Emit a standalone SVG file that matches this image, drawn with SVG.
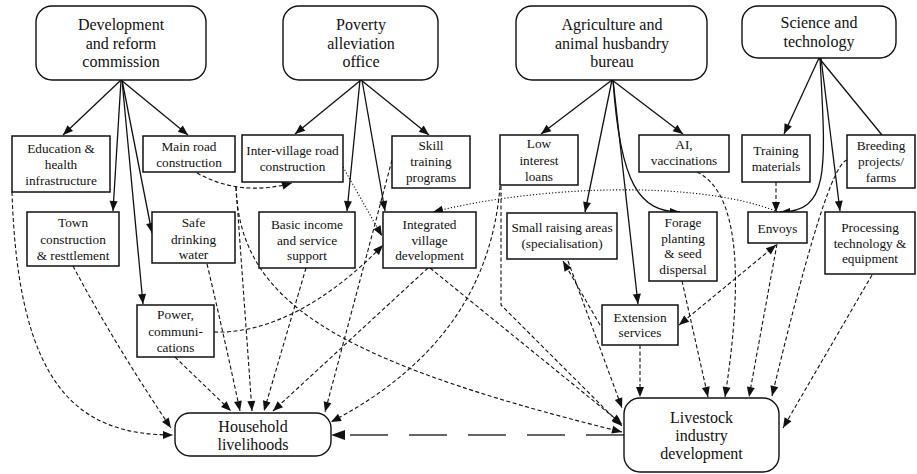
<svg xmlns="http://www.w3.org/2000/svg" width="917" height="474" viewBox="0 0 917 474">
<style>
text{font-family:"Liberation Serif",Tinos,"Times New Roman","DejaVu Serif",serif;fill:#111;text-anchor:middle}
.big{font-size:16px}
.sm{font-size:13.3px}
.top{fill:#fff;stroke:#111;stroke-width:1.4}
.box{fill:#fff;stroke:#111;stroke-width:1.5}
.s{fill:none;stroke:#111;stroke-width:1.3}
.d{fill:none;stroke:#111;stroke-width:1.1;stroke-dasharray:4 2.5}
.t{fill:none;stroke:#111;stroke-width:1.1;stroke-dasharray:1.2 2}
.l{fill:none;stroke:#333;stroke-width:1.5;stroke-dasharray:38 21}
</style>
<defs>
<marker id="a" markerUnits="userSpaceOnUse" markerWidth="11" markerHeight="9" refX="10" refY="4" orient="auto-start-reverse" overflow="visible"><path d="M0,0 L10,4 L0,8 z" fill="#111"/></marker>
<marker id="b" markerUnits="userSpaceOnUse" markerWidth="15" markerHeight="11" refX="14" refY="5" orient="auto" overflow="visible"><path d="M0,0 L14,5 L0,10 z" fill="#111"/></marker>
</defs>
<g id="connectors">
<path class="s" d="M121,80 L63,135" marker-end="url(#a)"/>
<path class="s" d="M121,80 L188,135" marker-end="url(#a)"/>
<path class="s" d="M121,80 L113,211" marker-end="url(#a)"/>
<path class="s" d="M122,80 L152,233" marker-end="url(#a)"/>
<path class="s" d="M122,80 L143,304" marker-end="url(#a)"/>
<path class="s" d="M361,80 L295,134" marker-end="url(#a)"/>
<path class="s" d="M361,80 L429,135" marker-end="url(#a)"/>
<path class="s" d="M360,80 L347,211" marker-end="url(#a)"/>
<path class="s" d="M362,80 L385,211" marker-end="url(#a)"/>
<path class="s" d="M612,80 L541,134" marker-end="url(#a)"/>
<path class="s" d="M612,80 L683,134" marker-end="url(#a)"/>
<path class="s" d="M612,80 L585,212" marker-end="url(#a)"/>
<path class="s" d="M613,80 L638,304" marker-end="url(#a)"/>
<path class="s" d="M613,80 C620,185 640,212 680,212" marker-end="url(#a)"/>
<path class="s" d="M819,58 L784,134" marker-end="url(#a)"/>
<path class="s" d="M819,58 L882,135"/>
<path class="s" d="M820,58 C826,170 830,212 780,212" marker-end="url(#a)"/>
<path class="s" d="M821,58 L840,211" marker-end="url(#a)"/>
<path class="d" d="M197,173 Q240,197 292,183" marker-end="url(#a)"/>
<path class="d" d="M236,187 L252,411" marker-end="url(#a)"/>
<path class="d" d="M236,187 C240,300 330,360 622,432" marker-end="url(#a)"/>
<path class="d" d="M207,264 Q225,340 240,411" marker-end="url(#a)"/>
<path class="d" d="M175,357 L231,411" marker-end="url(#a)"/>
<path class="d" d="M306,268 L264,411" marker-end="url(#a)"/>
<path class="d" d="M428,268 L273,411" marker-end="url(#a)"/>
<path class="d" d="M392,160 L325,412" marker-end="url(#a)"/>
<path class="d" d="M501,160 C501,290 430,370 331,422" marker-end="url(#a)"/>
<path class="d" d="M501,160 L501,305 L622,426" marker-end="url(#a)"/>
<path class="d" d="M430,268 L622,424" marker-end="url(#a)"/>
<path class="d" d="M214,332 C270,334 330,300 383,245" marker-end="url(#a)"/>
<path class="d" d="M12,192 C18,390 80,435 173,435" marker-end="url(#a)"/>
<path class="d" d="M73,266 Q115,345 171,428" marker-end="url(#a)"/>
<path class="d" d="M600,325 L563,261" marker-end="url(#a)"/>
<path class="d" d="M568,261 L622,408" marker-end="url(#a)"/>
<path class="d" d="M640,345 L640,397" marker-end="url(#a)"/>
<path class="d" d="M682,281 L708,397" marker-end="url(#a)"/>
<path class="d" d="M697,172 C745,195 740,300 725,397" marker-end="url(#a)"/>
<path class="d" d="M777,244 L749,397" marker-end="url(#a)"/>
<path class="d" d="M847,160 C830,165 800,280 772,396" marker-end="url(#a)"/>
<path class="d" d="M872,275 L783,428" marker-end="url(#a)"/>
<path class="d" d="M776,245 L679,325" marker-start="url(#a)" marker-end="url(#a)"/>
<path class="d" d="M776,182 L776,212" marker-end="url(#a)"/>
<path class="t" d="M343,167 L382,236" marker-end="url(#a)"/>
<path class="t" d="M778,212 C700,180 540,185 433,212" marker-end="url(#a)"/>
<path class="l" d="M624,435 L331,435" marker-end="url(#b)"/>
</g>
<g font-family="'Liberation Serif', Tinos, 'Times New Roman', 'DejaVu Serif', serif">
<g id="dev"><rect class="top" x="36" y="6" width="170" height="74" rx="16"/><text class="big" x="121" y="30">Development</text><text class="big" x="121" y="48.5">and reform</text><text class="big" x="121" y="67">commission</text></g>
<g id="pov"><rect class="top" x="283" y="6" width="155" height="74" rx="16"/><text class="big" x="361" y="30">Poverty</text><text class="big" x="361" y="48.5">alleviation</text><text class="big" x="361" y="67">office</text></g>
<g id="agri"><rect class="top" x="516" y="6" width="191" height="74" rx="16"/><text class="big" x="612" y="30">Agriculture and</text><text class="big" x="612" y="48.5">animal husbandry</text><text class="big" x="612" y="67">bureau</text></g>
<g id="sci"><rect class="top" x="742" y="6" width="154" height="52" rx="16"/><text class="big" x="819" y="28">Science and</text><text class="big" x="819" y="46.5">technology</text></g>
<g id="edu"><rect class="box" x="12" y="136" width="98" height="56"/><text class="sm" x="61" y="152.5">Education &amp;</text><text class="sm" x="61" y="168.5">health</text><text class="sm" x="61" y="184.5">infrastructure</text></g>
<g id="mainroad"><rect class="box" x="143" y="136" width="92" height="36"/><text class="sm" x="189" y="151">Main road</text><text class="sm" x="189" y="166.5">construction</text></g>
<g id="intervillage"><rect class="box" x="242" y="135" width="101" height="47"/><text class="sm" x="292.5" y="155">Inter-village road</text><text class="sm" x="292.5" y="171">construction</text></g>
<g id="skill"><rect class="box" x="392" y="136" width="78" height="52"/><text class="sm" x="431" y="150">Skill</text><text class="sm" x="431" y="166">training</text><text class="sm" x="431" y="182">programs</text></g>
<g id="loans"><rect class="box" x="500" y="135" width="78" height="50"/><text class="sm" x="539" y="148">Low</text><text class="sm" x="539" y="165">interest</text><text class="sm" x="539" y="181">loans</text></g>
<g id="ai"><rect class="box" x="639" y="135" width="90" height="37"/><text class="sm" x="684" y="149">AI,</text><text class="sm" x="684" y="165">vaccinations</text></g>
<g id="training"><rect class="box" x="742" y="135" width="68" height="47"/><text class="sm" x="776" y="155">Training</text><text class="sm" x="776" y="171">materials</text></g>
<g id="breeding"><rect class="box" x="847" y="135" width="68" height="53"/><text class="sm" x="881" y="150">Breeding</text><text class="sm" x="881" y="166">projects/</text><text class="sm" x="881" y="182">farms</text></g>
<g id="town"><rect class="box" x="27" y="212" width="92" height="54"/><text class="sm" x="73" y="227">Town</text><text class="sm" x="73" y="244">construction</text><text class="sm" x="73" y="260">&amp; resttlement</text></g>
<g id="water"><rect class="box" x="152" y="212" width="83" height="51"/><text class="sm" x="193.5" y="227">Safe</text><text class="sm" x="193.5" y="243.5">drinking</text><text class="sm" x="193.5" y="259">water</text></g>
<g id="basic"><rect class="box" x="259" y="212" width="96" height="56"/><text class="sm" x="307" y="229">Basic income</text><text class="sm" x="307" y="245">and service</text><text class="sm" x="307" y="260">support</text></g>
<g id="integrated"><rect class="box" x="383" y="212" width="93" height="56"/><text class="sm" x="429.5" y="229">Integrated</text><text class="sm" x="429.5" y="244.5">village</text><text class="sm" x="429.5" y="260">development</text></g>
<g id="small"><rect class="box" x="507" y="213" width="110" height="46"/><text class="sm" x="562" y="232">Small raising areas</text><text class="sm" x="562" y="248">(specialisation)</text></g>
<g id="forage"><rect class="box" x="649" y="212" width="68" height="69"/><text class="sm" x="683" y="227">Forage</text><text class="sm" x="683" y="242.5">planting</text><text class="sm" x="683" y="258">&amp; seed</text><text class="sm" x="683" y="274">dispersal</text></g>
<g id="envoys"><rect class="box" x="748" y="212" width="59" height="31"/><text class="sm" x="777.5" y="233">Envoys</text></g>
<g id="processing"><rect class="box" x="825" y="212" width="90" height="62"/><text class="sm" x="870" y="232">Processing</text><text class="sm" x="870" y="247.5">technology &amp;</text><text class="sm" x="870" y="263">equipment</text></g>
<g id="power"><rect class="box" x="137" y="305" width="77" height="52"/><text class="sm" x="175.5" y="319">Power,</text><text class="sm" x="175.5" y="336">communi-</text><text class="sm" x="175.5" y="352">cations</text></g>
<g id="extension"><rect class="box" x="602" y="305" width="76" height="40"/><text class="sm" x="640" y="322">Extension</text><text class="sm" x="640" y="337">services</text></g>
<g id="household"><rect class="top" x="175" y="413" width="156" height="43" rx="15"/><text class="big" x="253" y="432">Household</text><text class="big" x="253" y="450">livelihoods</text></g>
<g id="livestock"><rect class="top" x="624" y="398" width="155" height="74" rx="16"/><text class="big" x="701.5" y="423">Livestock</text><text class="big" x="701.5" y="441">industry</text><text class="big" x="701.5" y="459">development</text></g>
</g>
</svg>
